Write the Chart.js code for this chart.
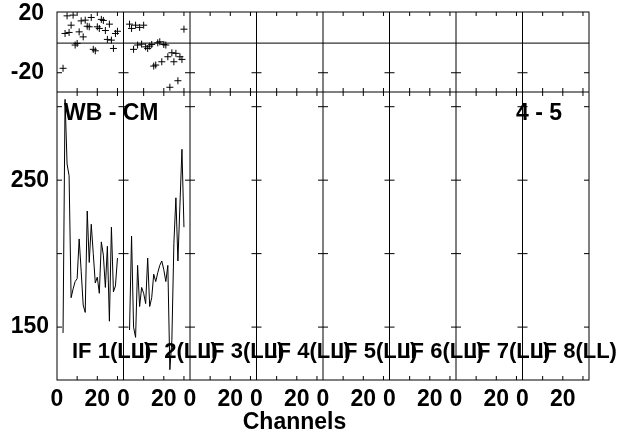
<!DOCTYPE html>
<html>
<head>
<meta charset="utf-8">
<script src="https://cdn.jsdelivr.net/npm/chart.js@4.4.0/dist/chart.umd.min.js"></script>
<style>
html, body { margin: 0; padding: 0; background: #ffffff; }
</style>
</head>
<body>
<canvas id="possmChart" width="624" height="434"></canvas>
<script>
// labels
var ifLabels = ['IF 1(LL)', 'IF 2(LL)', 'IF 3(LL)', 'IF 4(LL)', 'IF 5(LL)', 'IF 6(LL)', 'IF 7(LL)', 'IF 8(LL)'];
var sourceLabel = 'WB - CM';
var baselineLabel = '4 - 5';

// channels shown in each IF panel
var chanPerIF = 33;
var channels = [3, 4, 5, 6, 7, 8, 9, 10, 11, 12, 13, 14, 15, 16, 17, 18, 19, 20, 21, 22, 23, 24, 25, 26, 27, 28, 29, 30];

// phase (degrees) and amplitude
var phaseIF1 = [-17, 6.5, 18.4, 7.2, 12.1, 18.9, -1.3, -0.2, 7.6, 15, 4.2, 15.5, 11.4, 11, 17.3, -4.2, -5.2, 11, 9.9, 16, 15.3, 8.5, 2.5, 12.8, 2, -3.6, 6.5, 8];
var ampIF1 = [146, 305, 261, 253, 170, 176, 181, 183, 210, 188, 165, 160, 229, 194, 220, 200, 180, 184, 173, 208, 199, 177, 205, 154, 218, 174, 178, 197];
var phaseIF2 = [12.8, 9.9, -4.2, 12.1, -1.3, 10.6, -0.7, 12.1, -2.5, -3.6, -2, -0.9, -15.5, -14.8, 0.2, 0.9, -12.6, -0.9, -1.3, -9.2, -29.8, -6.5, -12.6, -6.9, -25.4, -9.2, -11, 9.4];
var ampIF2 = [148, 212, 150, 143, 192, 164, 177, 173, 166, 197, 164, 170, 186, 181, 187, 192, 195, 189, 181, 192, 121, 141, 207, 238, 195, 233, 271, 218];

// ticks
var chanLabelTicks = [0, 20];
var chanMinorTicks = [10, 20, 30];
var phaseLabelTicks = [20, -20];
var phaseMinorTicks = [-20];
var ampLabelTicks = [250, 150];
var ampMinorTicks = [150, 200, 250, 300];
var phaseRange = [-33, 21];
var ampRange = [114, 310];

var fontFamily = '"Liberation Sans", Arial, Helvetica, sans-serif';

function toPoints(ifIndex, vals) {
	return channels.map(function(ch, i) {
		return { x: ifIndex * chanPerIF + ch, y: vals[i] };
	});
}

function crossSet(ifIndex, vals) {
	return {
		data: toPoints(ifIndex, vals),
		yAxisID: 'ph',
		showLine: false,
		pointStyle: 'cross',
		pointRadius: 3.5,
		pointBorderWidth: 1,
		borderColor: '#000000',
		backgroundColor: '#000000'
	};
}

function lineSet(ifIndex, vals) {
	return {
		data: toPoints(ifIndex, vals),
		yAxisID: 'amp',
		showLine: true,
		pointRadius: 0,
		borderWidth: 1,
		borderColor: '#000000',
		tension: 0
	};
}

function line(ctx, x1, y1, x2, y2) {
	ctx.beginPath();
	ctx.moveTo(x1, y1);
	ctx.lineTo(x2, y2);
	ctx.stroke();
}

var possmFrame = {
	id: 'possmFrame',
	beforeDatasetsDraw: function(chart) {
		var ctx = chart.ctx;
		var area = chart.chartArea;
		var xs = chart.scales.x, ph = chart.scales.ph, amp = chart.scales.amp;
		var mid = amp.top;
		ctx.save();
		ctx.strokeStyle = '#000000';
		ctx.lineWidth = 1;
		ctx.strokeRect(area.left, area.top, area.width, area.height);
		line(ctx, area.left, mid, area.right, mid);
		var y0 = ph.getPixelForValue(0);
		line(ctx, area.left, y0, area.right, y0);
		for (var i = 1; i < ifLabels.length; i++) {
			var xb = xs.getPixelForValue(i * chanPerIF);
			line(ctx, xb, area.top, xb, area.bottom);
		}
		for (var j = 0; j < ifLabels.length; j++) {
			chanMinorTicks.forEach(function(c) {
				var x = xs.getPixelForValue(j * chanPerIF + c);
				line(ctx, x, area.top, x, area.top + 4);
				line(ctx, x, mid - 4, x, mid + 4);
				line(ctx, x, area.bottom - 4, x, area.bottom);
			});
		}
		for (var k = 0; k <= ifLabels.length; k++) {
			var xk = xs.getPixelForValue(k * chanPerIF);
			var l = Math.max(xk - 5, area.left), r = Math.min(xk + 5, area.right);
			ampMinorTicks.forEach(function(v) {
				var y = amp.getPixelForValue(v);
				line(ctx, l, y, r, y);
			});
			phaseMinorTicks.forEach(function(v) {
				var y = ph.getPixelForValue(v);
				line(ctx, l, y, r, y);
			});
		}
		ctx.restore();
	},
	afterDatasetsDraw: function(chart) {
		var ctx = chart.ctx;
		var area = chart.chartArea;
		var xs = chart.scales.x, amp = chart.scales.amp;
		ctx.save();
		ctx.fillStyle = '#000000';
		ctx.textBaseline = 'alphabetic';
		ctx.font = 'bold 23px ' + fontFamily;
		ctx.textAlign = 'left';
		ctx.fillText(sourceLabel, area.left + 7, amp.top + 28);
		ctx.textAlign = 'right';
		ctx.fillText(baselineLabel, area.right - 27, amp.top + 28);
		ctx.font = 'bold 22px ' + fontFamily;
		ctx.textAlign = 'left';
		ifLabels.forEach(function(txt, i) {
			ctx.fillText(txt, xs.getPixelForValue(i * chanPerIF) + 15, area.bottom - 22);
		});
		ctx.restore();
	}
};

var tickFont = { family: fontFamily, size: 23, weight: 'bold', lineHeight: 1.2 };

var possmChart = new Chart(document.getElementById('possmChart'), {
	type: 'scatter',
	data: {
		datasets: [
			crossSet(0, phaseIF1),
			lineSet(0, ampIF1),
			crossSet(1, phaseIF2),
			lineSet(1, ampIF2)
		]
	},
	plugins: [possmFrame],
	options: {
		responsive: false,
		animation: false,
		events: [],
		layout: {
			padding: { left: 0, right: 35, top: 12, bottom: 0 }
		},
		plugins: {
			legend: { display: false },
			tooltip: { enabled: false },
			title: {
				display: true,
				text: 'Channels',
				position: 'bottom',
				color: '#000000',
				padding: 0,
				font: { family: fontFamily, size: 23, weight: 'bold', lineHeight: 1 }
			}
		},
		scales: {
			x: {
				type: 'linear',
				min: 0,
				max: ifLabels.length * chanPerIF,
				grid: { display: false, drawTicks: false },
				border: { display: false },
				afterBuildTicks: function(scale) {
					var t = [];
					for (var i = 0; i < ifLabels.length; i++) {
						chanLabelTicks.forEach(function(c) {
							t.push({ value: i * chanPerIF + c });
						});
					}
					scale.ticks = t;
				},
				afterFit: function(scale) {
					scale.height = 31;
					scale.paddingLeft = 0;
					scale.paddingRight = 0;
				},
				ticks: {
					autoSkip: false,
					maxRotation: 0,
					padding: 6,
					color: '#000000',
					font: tickFont,
					labelOffset: function(ctx) {
						return (ctx.tick && ctx.tick.value % chanPerIF !== 0) ? -5 : 0;
					},
					callback: function(v) {
						return String(v - Math.floor(v / chanPerIF) * chanPerIF);
					}
				}
			},
			amp: {
				type: 'linear',
				position: 'left',
				stack: 'panels',
				stackWeight: 288,
				min: ampRange[0],
				max: ampRange[1],
				grid: { display: false, drawTicks: false },
				border: { display: false },
				afterBuildTicks: function(scale) {
					scale.ticks = ampLabelTicks.map(function(v) { return { value: v }; });
				},
				afterFit: function(scale) {
					scale.width = 57;
					scale.paddingTop = 0;
					scale.paddingBottom = 0;
				},
				ticks: { padding: 8, color: '#000000', font: tickFont }
			},
			ph: {
				type: 'linear',
				position: 'left',
				stack: 'panels',
				stackWeight: 80,
				min: phaseRange[0],
				max: phaseRange[1],
				grid: { display: false, drawTicks: false },
				border: { display: false },
				afterBuildTicks: function(scale) {
					scale.ticks = phaseLabelTicks.map(function(v) { return { value: v }; });
				},
				afterFit: function(scale) {
					scale.width = 57;
					scale.paddingTop = 0;
					scale.paddingBottom = 0;
				},
				ticks: { padding: 13, color: '#000000', font: tickFont }
			}
		}
	}
});
</script>
</body>
</html>
